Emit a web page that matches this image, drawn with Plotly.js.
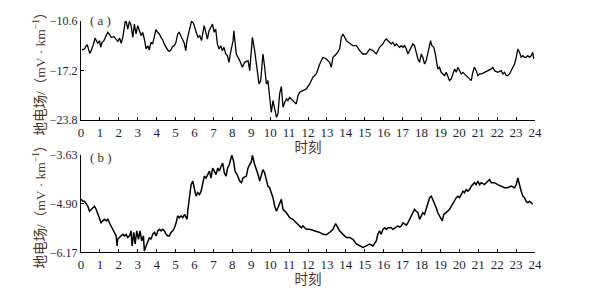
<!DOCTYPE html>
<html>
<head>
<meta charset="utf-8">
<script src="https://cdn.plot.ly/plotly-3.0.1.min.js"></script>
<style>html,body{margin:0;padding:0;background:#fff;}#chart{width:595px;height:288px;}</style>
</head>
<body>
<div id="chart"></div>
<script>
// Panel (a): hours and geo-electric field values (mV/km)
const hoursA = [0.05,0.19,0.28,0.33,0.46,0.54,0.63,0.75,0.81,0.89,0.98,1.04,1.11,1.21,1.33,1.42,1.51,1.60,1.74,1.86,1.95,2.04,2.12,2.21,2.30,2.35,2.40,2.47,2.56,2.65,2.74,2.82,2.91,3.00,3.09,3.18,3.26,3.35,3.44,3.53,3.61,3.70,3.79,3.88,3.96,4.05,4.14,4.23,4.32,4.40,4.49,4.58,4.67,4.75,4.84,4.93,5.02,5.11,5.19,5.28,5.37,5.46,5.54,5.60,5.68,5.77,5.84,5.95,6.02,6.12,6.19,6.28,6.37,6.46,6.51,6.60,6.68,6.77,6.86,6.95,7.04,7.12,7.21,7.30,7.39,7.47,7.56,7.65,7.74,7.82,7.91,7.96,8.04,8.08,8.21,8.39,8.53,8.65,8.83,8.92,9.06,9.18,9.30,9.41,9.50,9.62,9.71,9.80,9.88,9.97,10.06,10.15,10.24,10.33,10.41,10.50,10.59,10.68,10.77,10.86,10.94,11.03,11.20,11.38,11.47,11.56,11.73,11.91,12.09,12.18,12.26,12.44,12.62,12.79,12.97,13.14,13.23,13.32,13.50,13.67,13.76,13.85,13.94,14.03,14.20,14.37,14.56,14.73,14.90,15.08,15.26,15.43,15.61,15.78,15.96,16.05,16.14,16.22,16.31,16.40,16.49,16.58,16.67,16.75,16.84,16.93,17.02,17.11,17.20,17.28,17.37,17.46,17.54,17.63,17.72,17.81,17.90,17.99,18.07,18.16,18.25,18.34,18.43,18.48,18.55,18.65,18.73,18.78,18.86,18.95,19.04,19.13,19.22,19.31,19.39,19.48,19.57,19.66,19.75,19.84,19.92,20.01,20.10,20.19,20.27,20.36,20.45,20.54,20.63,20.71,20.80,20.89,20.98,21.07,21.16,21.33,21.51,21.69,21.77,21.86,22.03,22.21,22.30,22.39,22.48,22.56,22.65,22.74,22.83,22.92,23.01,23.09,23.18,23.27,23.36,23.44,23.53,23.62,23.71,23.80,23.88,23.93];
const valuesA = [-14.46,-14.33,-13.89,-13.75,-14.91,-14.55,-13.89,-12.86,-13.22,-13.57,-13.22,-14.11,-13.44,-13.22,-12.55,-12.11,-12.42,-12.78,-12.69,-13.00,-13.31,-12.86,-13.57,-12.78,-11.00,-10.47,-10.78,-11.67,-10.64,-11.22,-12.78,-11.00,-12.33,-11.22,-11.89,-12.55,-12.11,-13.00,-14.33,-13.89,-14.46,-13.44,-13.66,-12.55,-11.75,-12.11,-12.33,-12.78,-13.13,-13.66,-14.11,-14.46,-14.64,-14.46,-14.02,-13.89,-13.44,-12.33,-12.11,-12.55,-13.00,-13.57,-14.55,-13.22,-12.33,-11.44,-10.64,-10.91,-11.67,-12.33,-12.78,-12.55,-13.22,-11.89,-11.22,-12.11,-13.00,-11.89,-11.44,-11.00,-12.11,-11.67,-13.66,-14.33,-13.89,-14.55,-14.11,-15.00,-15.22,-16.11,-14.77,-14.11,-13.22,-11.90,-15.00,-15.88,-16.77,-16.11,-15.88,-17.22,-12.78,-14.55,-16.77,-18.99,-18.55,-15.00,-16.77,-18.99,-18.55,-21.21,-22.77,-21.21,-22.54,-23.43,-22.99,-20.32,-19.35,-22.10,-21.43,-20.99,-21.21,-20.77,-21.21,-21.66,-20.55,-20.10,-19.88,-19.66,-18.99,-18.55,-18.10,-17.66,-16.33,-15.44,-15.66,-16.11,-16.77,-15.44,-15.00,-14.33,-12.78,-12.33,-12.78,-13.22,-13.57,-13.89,-13.89,-14.55,-15.00,-15.00,-14.33,-14.55,-15.00,-14.11,-13.66,-13.22,-13.00,-13.22,-13.44,-13.66,-13.44,-13.89,-13.66,-13.89,-14.11,-13.89,-14.11,-13.89,-14.33,-15.00,-14.55,-14.11,-13.66,-13.89,-15.00,-15.66,-16.11,-15.00,-15.44,-16.33,-15.88,-14.77,-13.44,-13.22,-13.89,-14.11,-15.00,-15.88,-16.99,-16.77,-17.44,-17.66,-17.88,-17.44,-18.10,-18.55,-18.33,-17.66,-16.99,-17.44,-16.77,-17.22,-17.66,-17.44,-17.66,-17.88,-18.10,-18.33,-18.55,-17.44,-16.77,-17.22,-17.88,-17.66,-17.66,-17.44,-17.22,-16.99,-16.77,-17.22,-17.44,-17.22,-17.66,-17.44,-17.88,-17.88,-17.66,-17.22,-16.77,-16.33,-15.44,-14.33,-14.77,-15.44,-15.22,-15.44,-15.44,-15.22,-15.44,-15.22,-14.77,-15.66];

// Panel (b)
const hoursB = [0.01,0.10,0.18,0.27,0.36,0.45,0.54,0.62,0.71,0.80,0.89,0.98,1.06,1.15,1.24,1.33,1.42,1.50,1.59,1.68,1.77,1.86,1.91,1.94,2.03,2.12,2.21,2.30,2.39,2.47,2.56,2.65,2.70,2.79,2.86,2.95,3.04,3.12,3.21,3.30,3.35,3.44,3.53,3.62,3.70,3.79,3.88,3.97,4.06,4.15,4.23,4.32,4.41,4.50,4.59,4.67,4.76,4.85,4.94,5.03,5.11,5.20,5.29,5.38,5.47,5.55,5.61,5.64,5.73,5.82,5.91,5.99,6.08,6.17,6.26,6.35,6.43,6.52,6.61,6.70,6.79,6.87,6.96,7.05,7.14,7.23,7.31,7.40,7.49,7.58,7.67,7.75,7.84,7.93,7.98,8.07,8.14,8.25,8.39,8.48,8.56,8.74,8.83,8.92,9.01,9.06,9.18,9.36,9.45,9.54,9.62,9.71,9.80,9.88,9.97,10.15,10.24,10.33,10.41,10.50,10.59,10.68,10.86,11.03,11.20,11.38,11.56,11.65,11.73,11.91,12.09,12.26,12.44,12.62,12.79,12.97,13.14,13.32,13.46,13.58,13.67,13.85,14.03,14.20,14.37,14.56,14.73,14.90,15.08,15.26,15.43,15.61,15.69,15.78,15.87,15.96,16.05,16.14,16.22,16.40,16.49,16.58,16.75,16.84,16.93,17.02,17.11,17.20,17.28,17.37,17.46,17.54,17.63,17.72,17.81,17.90,17.99,18.07,18.16,18.25,18.34,18.43,18.52,18.60,18.69,18.78,18.86,18.95,19.04,19.10,19.18,19.31,19.39,19.48,19.57,19.66,19.75,19.84,19.92,20.01,20.10,20.19,20.27,20.36,20.45,20.54,20.63,20.71,20.80,20.89,20.98,21.07,21.16,21.33,21.51,21.60,21.69,21.86,22.03,22.21,22.39,22.56,22.74,22.92,23.01,23.09,23.18,23.27,23.36,23.44,23.53,23.62,23.71,23.80,23.88];
const valuesB = [-4.79,-4.84,-4.84,-4.92,-4.97,-5.10,-5.05,-5.01,-4.97,-5.05,-5.18,-5.31,-5.40,-5.35,-5.31,-5.35,-5.31,-5.40,-5.48,-5.57,-5.65,-5.74,-6.00,-5.83,-5.78,-5.74,-5.70,-5.74,-5.70,-5.78,-5.74,-5.61,-6.00,-5.65,-5.95,-5.61,-5.83,-5.61,-5.87,-5.74,-6.13,-6.00,-5.91,-5.78,-5.83,-5.70,-5.65,-5.74,-5.61,-5.57,-5.61,-5.57,-5.61,-5.70,-5.74,-5.74,-5.65,-5.61,-5.53,-5.40,-5.22,-5.27,-5.22,-5.27,-5.18,-5.27,-5.31,-5.10,-4.75,-4.41,-4.32,-4.49,-4.71,-4.62,-4.67,-4.58,-4.41,-4.19,-4.24,-4.15,-4.06,-4.24,-3.98,-4.06,-4.15,-3.98,-4.06,-3.94,-3.85,-4.11,-4.19,-3.98,-3.89,-3.72,-3.65,-3.81,-4.06,-4.15,-4.32,-4.36,-4.24,-4.19,-3.98,-3.89,-3.81,-3.65,-3.89,-4.15,-4.32,-4.15,-4.02,-4.11,-4.32,-4.45,-4.49,-4.75,-4.97,-5.10,-5.01,-4.88,-4.79,-5.05,-5.14,-5.27,-5.31,-5.40,-5.48,-5.53,-5.48,-5.57,-5.57,-5.59,-5.61,-5.65,-5.70,-5.71,-5.65,-5.57,-5.42,-5.53,-5.61,-5.70,-5.78,-5.78,-5.83,-5.95,-6.00,-6.04,-6.00,-5.95,-6.00,-5.87,-5.70,-5.61,-5.70,-5.57,-5.53,-5.57,-5.53,-5.53,-5.57,-5.53,-5.48,-5.51,-5.48,-5.40,-5.44,-5.46,-5.40,-5.31,-5.22,-5.14,-5.05,-5.10,-5.14,-5.31,-5.22,-5.14,-5.18,-5.05,-4.88,-4.75,-4.71,-4.79,-4.88,-5.01,-5.14,-5.22,-5.27,-5.35,-5.18,-5.14,-5.10,-5.05,-4.97,-4.92,-4.84,-4.75,-4.71,-4.75,-4.67,-4.58,-4.62,-4.54,-4.58,-4.54,-4.45,-4.41,-4.36,-4.41,-4.32,-4.41,-4.36,-4.41,-4.32,-4.28,-4.36,-4.36,-4.41,-4.45,-4.49,-4.49,-4.45,-4.49,-4.41,-4.24,-4.45,-4.58,-4.71,-4.75,-4.84,-4.88,-4.84,-4.88,-4.92];

const xTicks = [0,1,2,3,4,5,6,7,8,9,10,11,12,13,14,15,16,17,18,19,20,21,22,23,24];
const yTicksA = [-23.8,-17.2,-10.6];
const yTextA = ['\u221223.8','\u221217.2','\u221210.6'];
const yTicksB = [-6.17,-4.90,-3.63];
const yTextB = ['\u22126.17','\u22124.90','\u22123.63'];
const xTitle = '时刻';
const yTitle = '地电场/（mV · km<sup>\u22121</sup>）';
const panelLabels = ['( a )','( b )'];

const serif = 'Liberation Serif, Noto Sans CJK SC, serif';
const tickColor = '#1e1e38';
const titleColor = '#4a3424';

function xAxis(anchor) {
  return {
    anchor: anchor, domain: [0, 1], range: [0, 24],
    tickvals: xTicks, ticktext: xTicks.map(String),
    ticks: 'inside', ticklen: 3, tickcolor: '#000', tickwidth: 1,
    showline: true, linecolor: '#000', linewidth: 1,
    showgrid: false, zeroline: false,
    tickfont: {family: serif, size: 13, color: tickColor},
    title: {text: xTitle, font: {family: serif, size: 13.5, color: titleColor}, standoff: 2}
  };
}
function yAxis(anchor, dom, rng, tv, tt) {
  return {
    anchor: anchor, domain: dom, range: rng,
    tickvals: tv, ticktext: tt,
    ticks: 'inside', ticklen: 3, tickcolor: '#000', tickwidth: 1,
    showline: true, linecolor: '#000', linewidth: 1,
    showgrid: false, zeroline: false,
    tickfont: {family: serif, size: 12, color: tickColor},
    title: {text: yTitle, font: {family: serif, size: 13.5, color: titleColor}, standoff: 1}
  };
}

const data = [
  {x: hoursA, y: valuesA, xaxis: 'x', yaxis: 'y', type: 'scatter', mode: 'lines',
   line: {color: '#000', width: 1.3}, hoverinfo: 'skip'},
  {x: hoursB, y: valuesB, xaxis: 'x2', yaxis: 'y2', type: 'scatter', mode: 'lines',
   line: {color: '#000', width: 1.5}, hoverinfo: 'skip'}
];

const layout = {
  width: 595, height: 288,
  margin: {l: 81, r: 60, t: 0, b: 0},
  paper_bgcolor: '#fff', plot_bgcolor: '#fff',
  showlegend: false,
  xaxis: xAxis('y'),
  yaxis: yAxis('x', [0.5833, 0.9271], [-23.8, -10.6], yTicksA, yTextA),
  xaxis2: xAxis('y2'),
  yaxis2: yAxis('x2', [0.1233, 0.4635], [-6.17, -3.63], yTicksB, yTextB),
  annotations: [
    {text: panelLabels[0], xref: 'x domain', yref: 'y domain', x: 0.015, y: 1, xanchor: 'left', yanchor: 'middle',
     showarrow: false, font: {family: serif, size: 13, color: '#333'}},
    {text: panelLabels[1], xref: 'x2 domain', yref: 'y2 domain', x: 0.015, y: 0.97, xanchor: 'left', yanchor: 'middle',
     showarrow: false, font: {family: serif, size: 13, color: '#333'}}
  ]
};

Plotly.newPlot('chart', data, layout, {displayModeBar: false, staticPlot: true});
</script>
</body>
</html>
